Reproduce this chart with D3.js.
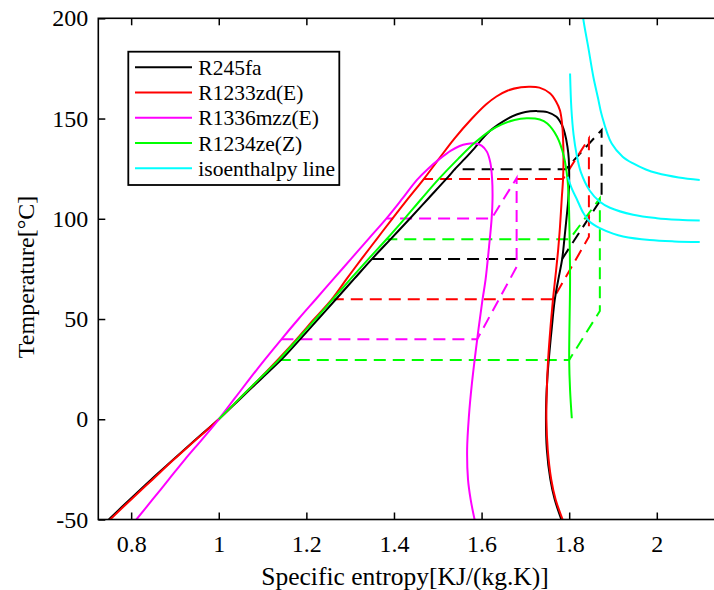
<!DOCTYPE html>
<html>
<head>
<meta charset="utf-8">
<script src="https://cdn.jsdelivr.net/npm/d3@7"></script>
<style>
  body { margin: 0; background: #fff; }
  text { font-family: 'Liberation Serif', 'Times New Roman', serif; }
</style>
</head>
<body>
<script>
// saturation domes, [entropy kJ/(kg.K), temperature C]
const r245fa = [[0.749, -50], [0.797, -40], [0.846, -30], [0.897, -20], [0.948, -10], [1.0, 0], [1.048, 10], [1.096, 20], [1.144, 30], [1.186, 40], [1.227, 50], [1.268, 60], [1.309, 70], [1.350, 80], [1.393, 90], [1.436, 100], [1.478, 110], [1.520, 120], [1.540, 125], [1.562, 130], [1.583, 135], [1.602, 140], [1.620, 144], [1.638, 147], [1.660, 150], [1.680, 152], [1.700, 153.3], [1.726, 153.7], [1.750, 153.2], [1.771, 150.9], [1.783, 147], [1.790, 142.6], [1.796, 136], [1.799, 130], [1.800, 120], [1.798, 110], [1.795, 102.7], [1.790, 92], [1.784, 80], [1.775, 69.5], [1.767, 59.5], [1.760, 45], [1.756, 36], [1.750, 20], [1.747, 3], [1.749, -15], [1.757, -30], [1.767, -40], [1.782, -50]]
const r1233zd = [[0.752, -50], [0.800, -40], [0.849, -30], [0.898, -20], [0.949, -10], [1.0, 0], [1.046, 10], [1.092, 20], [1.136, 30], [1.178, 40], [1.218, 50], [1.258, 59.8], [1.292, 70], [1.326, 80], [1.361, 90], [1.396, 100], [1.432, 110], [1.468, 119.8], [1.503, 130], [1.538, 140], [1.578, 150], [1.610, 157], [1.634, 161], [1.660, 164], [1.690, 165.6], [1.710, 165.9], [1.732, 165.4], [1.756, 162.6], [1.770, 158.5], [1.779, 154], [1.784, 147], [1.786, 140], [1.787, 130], [1.786, 119.8], [1.783, 110], [1.779, 96], [1.775, 85], [1.770, 74], [1.763, 59.8], [1.757, 45], [1.752, 30], [1.749, 15], [1.748, 0], [1.751, -15], [1.759, -30], [1.769, -40], [1.785, -50]]
const r1336mzz = [[0.812, -50], [0.849, -40], [0.886, -30], [0.923, -20], [0.962, -10], [1.0, 0], [1.035, 10], [1.070, 20], [1.106, 30], [1.143, 39.9], [1.182, 50], [1.222, 60], [1.262, 70], [1.302, 80], [1.342, 90], [1.383, 100.2], [1.419, 110], [1.452, 119.3], [1.478, 125], [1.505, 130], [1.530, 134], [1.550, 136.3], [1.566, 137.3], [1.585, 137.6], [1.600, 136.5], [1.612, 133.5], [1.620, 128], [1.624, 120], [1.625, 110], [1.623, 100.2], [1.617, 86], [1.609, 69.5], [1.602, 59.5], [1.590, 39.9], [1.578, 18], [1.571, 1.3], [1.567, -15], [1.569, -30], [1.575, -40], [1.584, -50]]
const r1234ze = [[1.0, 0], [1.046, 10], [1.092, 20], [1.137, 29.6], [1.180, 40], [1.221, 50], [1.261, 60], [1.301, 70], [1.342, 80], [1.383, 89.8], [1.424, 100], [1.463, 110], [1.503, 120], [1.547, 130], [1.585, 138], [1.620, 144], [1.645, 147], [1.675, 149.3], [1.703, 150.1], [1.733, 149.5], [1.750, 147.5], [1.772, 141], [1.788, 131], [1.796, 120], [1.799, 109.3], [1.801, 89.8], [1.802, 69.5], [1.800, 29.6], [1.802, 14.6], [1.806, 0.5]]

// isoenthalpy lines
const isoTop = [[1.830, 205], [1.832, 200], [1.844, 185], [1.855, 171], [1.866, 160], [1.874, 152], [1.897, 137.5], [1.922, 131], [1.946, 127.6], [1.975, 124.6], [2.0, 122.8], [2.05, 120.6], [2.098, 119.4]]
const isoMid = [[1.802, 172.5], [1.805, 155], [1.810, 142], [1.817, 132], [1.827, 123], [1.847, 114], [1.870, 108.5], [1.893, 105.5], [1.946, 102], [2.0, 100.3], [2.05, 99.5], [2.098, 99.1]]
const isoLow = [[1.797, 121], [1.806, 115], [1.817, 110], [1.832, 103], [1.847, 98.5], [1.870, 95.3], [1.900, 92.6], [1.923, 91.2], [1.984, 89.4], [2.04, 88.7], [2.098, 88.4]]

// cycle paths (dashed)
const cycle245fa = [[1.350, 80], [1.784, 80], [1.874, 110.2], [1.874, 144.3], [1.792, 124.7], [1.540, 124.7]]
const cycle1233zd = [[1.258, 59.8], [1.763, 59.8], [1.845, 91], [1.845, 140.1], [1.786, 119.8], [1.468, 119.8]]
const cycle1336mzz = [[1.143, 39.9], [1.590, 39.9], [1.680, 76], [1.680, 120.3], [1.623, 100.2], [1.383, 100.2]]
const cycle1234ze = [[1.137, 29.6], [1.800, 29.6], [1.870, 54], [1.870, 110.2], [1.801, 89.8], [1.383, 89.8]]

const xTicks = [0.8, 1, 1.2, 1.4, 1.6, 1.8, 2]
const xTickLabels = ['0.8', '1', '1.2', '1.4', '1.6', '1.8', '2']
const yTicks = [-50, 0, 50, 100, 150, 200]
const yTickLabels = ['-50', '0', '50', '100', '150', '200']
const legendNames = ['R245fa', 'R1233zd(E)', 'R1336mzz(E)', 'R1234ze(Z)', 'isoenthalpy line']
const legendColors = ['#000000', '#ff0000', '#ff00ff', '#00ff00', '#00ffff']

let width = 714
let height = 590
let plotLeft = 98.3
let plotTop = 18.3
let plotBottom = 519.5
let plotRight = 722.5
let serif = "'Liberation Serif', 'Times New Roman', serif"

let x = d3.scaleLinear().domain([0.725, 2.15]).range([plotLeft, plotRight])
let y = d3.scaleLinear().domain([-50, 200]).range([plotBottom, plotTop])

let svg = d3.select('body')
  .append('svg')
  .attr('width', width)
  .attr('height', height)

svg.append('clipPath')
  .attr('id', 'plot')
  .append('rect')
  .attr('x', plotLeft)
  .attr('y', plotTop)
  .attr('width', plotRight - plotLeft)
  .attr('height', plotBottom - plotTop)

let smooth = d3.line().x(d => x(d[0])).y(d => y(d[1])).curve(d3.curveCatmullRom.alpha(0.5))
let straight = d3.line().x(d => x(d[0])).y(d => y(d[1]))

let plot = svg.append('g').attr('clip-path', 'url(#plot)')

const domes = [r245fa, r1233zd, r1336mzz, r1234ze]
const cycles = [cycle245fa, cycle1233zd, cycle1336mzz, cycle1234ze]

plot.selectAll('.cycle')
  .data(cycles)
  .enter()
  .append('path')
  .attr('class', 'cycle')
  .attr('d', straight)
  .attr('fill', 'none')
  .attr('stroke', (d, i) => legendColors[i])
  .attr('stroke-width', 2)
  .attr('stroke-dasharray', '12,7')

plot.selectAll('.dome')
  .data(domes)
  .enter()
  .append('path')
  .attr('class', 'dome')
  .attr('d', smooth)
  .attr('fill', 'none')
  .attr('stroke', (d, i) => legendColors[i])
  .attr('stroke-width', 2)

plot.selectAll('.iso')
  .data([isoTop, isoMid, isoLow])
  .enter()
  .append('path')
  .attr('class', 'iso')
  .attr('d', smooth)
  .attr('fill', 'none')
  .attr('stroke', legendColors[4])
  .attr('stroke-width', 2)

// axes, ticks pointing inward
svg.append('g')
  .attr('class', 'axis')
  .attr('transform', 'translate(0,' + plotBottom + ')')
  .call(d3.axisBottom(x).tickValues(xTicks).tickSizeInner(-7).tickSizeOuter(0).tickPadding(15)
    .tickFormat((d, i) => xTickLabels[i]))

svg.append('g')
  .attr('class', 'axis')
  .attr('transform', 'translate(0,' + plotTop + ')')
  .call(d3.axisTop(x).tickValues(xTicks).tickSizeInner(-7).tickSizeOuter(0).tickFormat(''))

svg.append('g')
  .attr('class', 'axis')
  .attr('transform', 'translate(' + plotLeft + ',0)')
  .call(d3.axisLeft(y).tickValues(yTicks).tickSizeInner(-7).tickSizeOuter(0).tickPadding(10)
    .tickFormat((d, i) => yTickLabels[i]))

svg.selectAll('.axis')
  .attr('font-family', serif)
  .attr('font-size', 24)
svg.selectAll('.tick line').attr('stroke', '#000').attr('stroke-width', 1.5)
svg.selectAll('.domain').attr('stroke', 'none')
svg.selectAll('.tick text')
  .attr('fill', '#000')
  .style('font-size', '24px')
  .style('font-family', serif)

svg.append('rect')
  .attr('x', plotLeft)
  .attr('y', plotTop)
  .attr('width', plotRight - plotLeft)
  .attr('height', plotBottom - plotTop)
  .attr('fill', 'none')
  .attr('stroke', '#000')
  .attr('stroke-width', 1.6)

svg.append('text')
  .attr('x', 405)
  .attr('y', 585)
  .attr('text-anchor', 'middle')
  .style('font-size', '25.5px')
  .text('Specific entropy[KJ/(kg.K)]')

svg.append('text')
  .attr('transform', 'translate(34,' + ((plotTop + plotBottom) / 2 + 8) + ') rotate(-90)')
  .attr('text-anchor', 'middle')
  .style('font-size', '24px')
  .text('Temperature[°C]')

// legend
let legend = svg.append('g')
legend.append('rect')
  .attr('x', 128.3)
  .attr('y', 51.7)
  .attr('width', 211)
  .attr('height', 133.3)
  .attr('fill', '#fff')
  .attr('stroke', '#000')
  .attr('stroke-width', 1.8)

let rows = legend.selectAll('.row')
  .data(legendNames)
  .enter()
  .append('g')
  .attr('transform', (d, i) => 'translate(0,' + (67.3 + i * 25.25) + ')')

rows.append('line')
  .attr('x1', 135)
  .attr('x2', 192)
  .attr('stroke', (d, i) => legendColors[i])
  .attr('stroke-width', 2)

rows.append('text')
  .attr('x', 198.3)
  .attr('dy', '0.35em')
  .style('font-size', '21.5px')
  .text(d => d)
</script>
</body>
</html>
